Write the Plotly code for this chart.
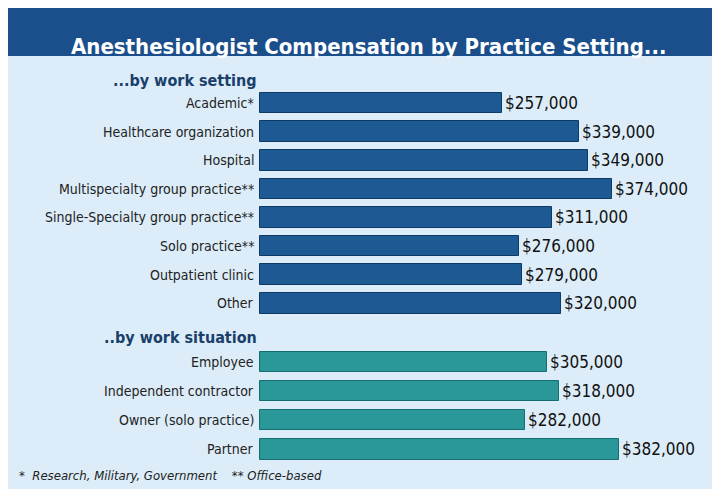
import plotly.graph_objects as go

setting_labels = ["Academic*", "Healthcare organization", "Hospital", "Multispecialty group practice**",
                  "Single-Specialty group practice**", "Solo practice**", "Outpatient clinic", "Other"]
setting_values = [257000, 339000, 349000, 374000, 311000, 276000, 279000, 320000]
situation_labels = ["Employee", "Independent contractor", "Owner (solo practice)", "Partner"]
situation_values = [305000, 318000, 282000, 382000]

W, H = 720, 489
row_px = 28.6
y0px = 95
x0px = 252
kx = 0.00094

pos1 = list(range(len(setting_values)))
pos2 = [9.05 + i * 1.02 for i in range(len(situation_values))]

fig = go.Figure()
font_lbl = "DejaVu Sans Condensed, Liberation Sans Narrow, sans-serif"
for pos, vals, col, line in [(pos1, setting_values, "#1d5a94", "#0e3a66"),
                             (pos2, situation_values, "#2a9898", "#146e70")]:
    fig.add_trace(go.Bar(
        x=vals, y=pos, orientation="h", width=0.72,
        marker=dict(color=col, line=dict(color=line, width=1)),
        hoverinfo="skip"))
    for p, v in zip(pos, vals):
        fig.add_annotation(x=v, y=p, xref="x", yref="y", text=f"${v:,.0f}", showarrow=False,
                           xanchor="left", xshift=1, font=dict(size=17, color="#111", family=font_lbl))

for pos, labs in [(pos1, setting_labels), (pos2, situation_labels)]:
    for p, l in zip(pos, labs):
        fig.add_annotation(x=0, y=p, xref="x", yref="y", text=l, showarrow=False,
                           xanchor="right", xshift=-4, font=dict(size=14, color="#222", family=font_lbl))

fig.add_annotation(x=0, y=-0.8, xref="x", yref="y", text="<b>...by work setting</b>", showarrow=False,
                   xanchor="right", xshift=-1, font=dict(size=16, color="#1a3f6a", family=font_lbl))
fig.add_annotation(x=0, y=8.2, xref="x", yref="y", text="<b>..by work situation</b>", showarrow=False,
                   xanchor="right", xshift=-1, font=dict(size=16, color="#1a3f6a", family=font_lbl))

fig.add_shape(type="rect", xref="paper", yref="paper", x0=0, x1=1, y0=1 - 48 / H, y1=1,
              fillcolor="#1b4f8c", line_width=0, layer="below")
fig.add_annotation(xref="paper", yref="paper", x=0.5, y=1 - 24 / H, text="<b>Anesthesiologist Compensation by Practice Setting...</b>",
                   showarrow=False, font=dict(size=22, color="white", family=font_lbl))
fig.add_annotation(xref="paper", yref="paper", x=0.012, y=1 - 477 / H, xanchor="left",
                   text="<i>*  Research, Military, Government    ** Office-based</i>", showarrow=False,
                   font=dict(size=13, color="#222", family=font_lbl))

fig.update_layout(
    width=W, height=H, margin=dict(l=0, r=0, t=0, b=0, autoexpand=False), showlegend=False,
    paper_bgcolor="#dcedf9", plot_bgcolor="rgba(0,0,0,0)", bargap=0,
    xaxis=dict(range=[-x0px / kx, (W - x0px) / kx], visible=False, fixedrange=True),
    yaxis=dict(range=[(H - y0px) / row_px, -y0px / row_px], visible=False, fixedrange=True),
)
fig.write_html("out.html")
